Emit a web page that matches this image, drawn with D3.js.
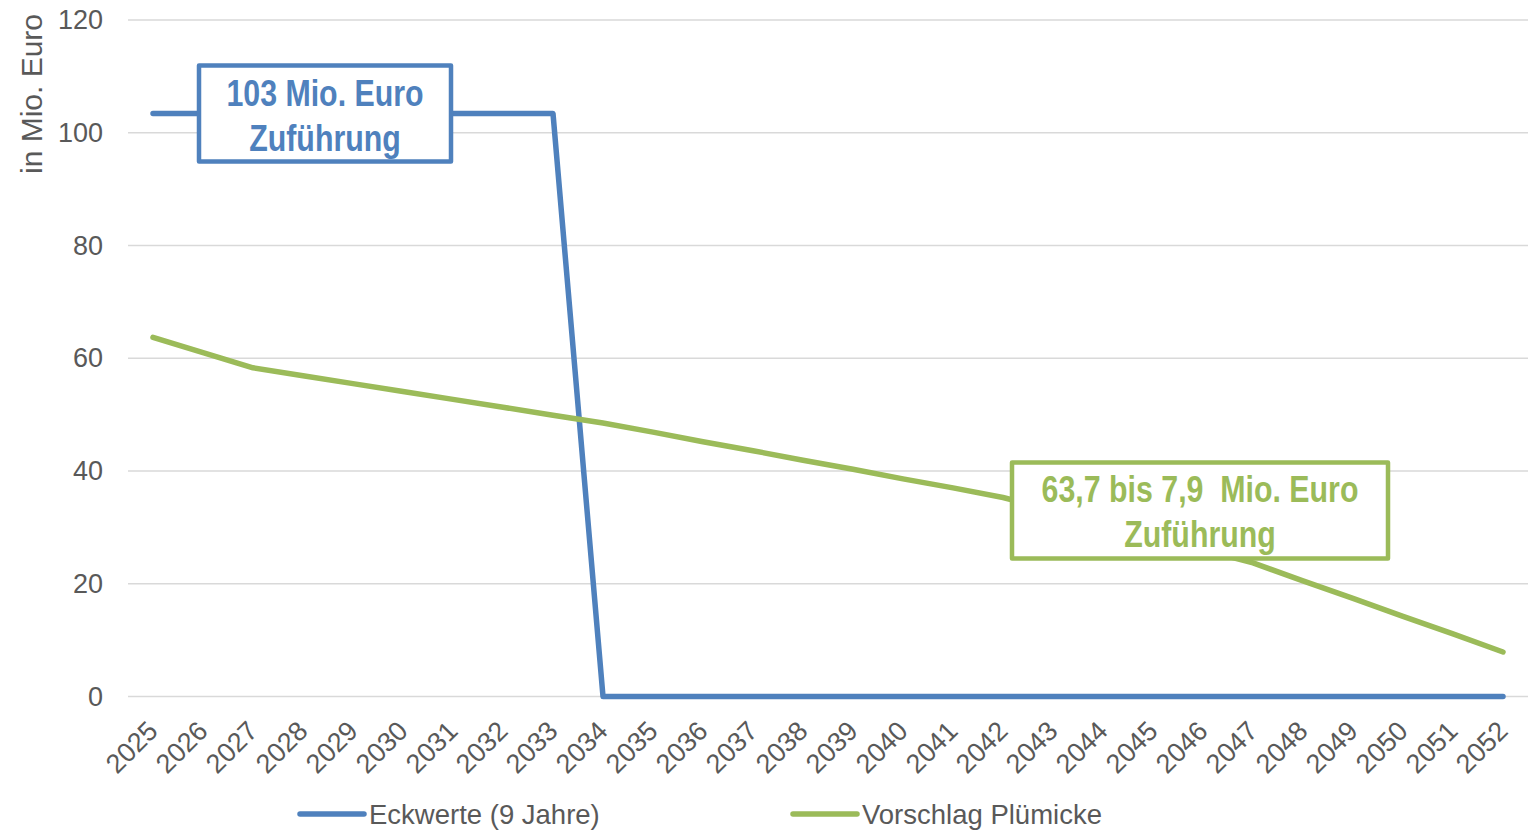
<!DOCTYPE html>
<html lang="de">
<head>
    <meta charset="UTF-8">
</head>
<style>
    body{
        margin:0;
        width:1533px;
        height:831px;
        background:#fff;
        font-family:"Liberation Sans", Arial, sans-serif;
    }
    #chart{
        width:1533px;
        height:831px;
        display:block;
    }
    .grid line{
        stroke:#d9d9d9;
        stroke-width:1.5;
    }
    .tick text{
        fill:#595959;
        font-size:27px;
    }
    .series{
        fill:none;
        stroke-width:5.5;
        stroke-linejoin:round;
        stroke-linecap:round;
    }
    .note text{
        font-family:"Liberation Sans", Arial, sans-serif;
        font-weight:bold;
        font-size:37px;
        white-space:pre;
    }
</style>
<script src="https://d3js.org/d3.v7.min.js"></script>
<body>

<svg id="chart"></svg>

<script>
    var years = d3.range(2025, 2053).map(String);

    var eckwerte = [103.4, 103.4, 103.4, 103.4, 103.4, 103.4, 103.4, 103.4, 103.4,
        0, 0, 0, 0, 0, 0, 0, 0, 0, 0, 0, 0, 0, 0, 0, 0, 0, 0, 0];

    var pluemicke = [63.7, 61.0, 58.3, 56.9, 55.5, 54.1, 52.7, 51.3, 49.9, 48.5,
        46.9, 45.2, 43.6, 41.9, 40.3, 38.6, 37.0, 35.3, 33.0, 30.7, 28.3, 26.0,
        23.7, 20.5, 17.4, 14.2, 11.1, 7.9];

    var yTicks = [0, 20, 40, 60, 80, 100, 120];

    var seriesNames = ["Eckwerte (9 Jahre)", "Vorschlag Plümicke"];
    var seriesColors = ["#4f81bd", "#9bbb59"];

    // annotation boxes: year, offset in steps, value at centre
    var notes = [
        {lines: ["103 Mio. Euro", "Zuführung"], year: "2028", off: 0.44, value: 103.4, w: 252, color: "#4f81bd"},
        {lines: ["63,7 bis 7,9  Mio. Euro", "Zuführung"], year: "2046", off: -0.06, value: 33.0, w: 376, color: "#9bbb59"}
    ];

    var plotLeft = 128, plotRight = 1528, plotTop = 20, plotBottom = 696.5;
    var narrow = 0.82;

    var svg = d3.select("#chart");

    var x = d3.scalePoint().domain(years).range([plotLeft, plotRight]).padding(0.5);
    var y = d3.scaleLinear().domain([0, 120]).range([plotBottom, plotTop]);

    // gridlines
    svg.append("g")
        .attr("class", "grid")
        .selectAll("line")
        .data(yTicks)
        .enter().append("line")
        .attr("x1", plotLeft)
        .attr("x2", plotRight)
        .attr("y1", function(d) { return y(d); })
        .attr("y2", function(d) { return y(d); });

    // y axis labels
    var yAxis = d3.axisLeft(y).tickValues(yTicks).tickSize(0).tickPadding(25);
    svg.append("g")
        .attr("transform", "translate(" + plotLeft + ",0)")
        .call(yAxis)
        .call(function(g) { g.select(".domain").remove(); })
        .selectAll("text")
        .attr("font-family", "Liberation Sans, Arial, sans-serif")
        .style("font-size", "27px");

    svg.append("text")
        .attr("transform", "translate(42,94) rotate(-90)")
        .attr("text-anchor", "middle")
        .attr("fill", "#595959")
        .style("font-size", "30px")
        .text("in Mio. Euro");

    // x axis labels
    var xAxis = d3.axisBottom(x).tickSize(0).tickPadding(0);
    svg.append("g")
        .attr("transform", "translate(0," + plotBottom + ")")
        .call(xAxis)
        .call(function(g) { g.select(".domain").remove(); })
        .selectAll("text")
        .attr("font-family", "Liberation Sans, Arial, sans-serif")
        .attr("y", 0)
        .attr("dy", 0)
        .style("text-anchor", "end")
        .attr("transform", "translate(6,36) rotate(-45)");

    // lines
    var line = d3.line()
        .x(function(d, i) { return x(years[i]); })
        .y(function(d) { return y(d); });

    [eckwerte, pluemicke].forEach(function(s, i) {
        svg.append("path")
            .attr("class", "series")
            .attr("stroke", seriesColors[i])
            .attr("d", line(s));
    });

    // annotation boxes
    notes.forEach(function(n) {
        var cx = x(n.year) + n.off * x.step();
        var cy = y(n.value);
        var g = svg.append("g").attr("class", "note");
        g.append("rect")
            .attr("x", cx - n.w / 2)
            .attr("y", cy - 48)
            .attr("width", n.w)
            .attr("height", 96)
            .attr("fill", "#fff")
            .attr("stroke", n.color)
            .attr("stroke-width", 4.5)
            .attr("stroke-linejoin", "round");
        n.lines.forEach(function(t, k) {
            g.append("text")
                .attr("transform", "translate(" + cx + "," + (cy - 8 + k * 45) + ") scale(" + narrow + ",1)")
                .attr("text-anchor", "middle")
                .attr("fill", n.color)
                .text(t);
        });
    });

    // legend
    var legendX = [300, 793];
    seriesNames.forEach(function(name, i) {
        var lg = svg.append("g").attr("transform", "translate(" + legendX[i] + ",814)");
        lg.append("line")
            .attr("x1", 0).attr("x2", 64)
            .attr("stroke", seriesColors[i])
            .attr("stroke-width", 5.5)
            .attr("stroke-linecap", "round");
        lg.append("text")
            .attr("x", 69)
            .attr("dy", "0.35em")
            .attr("fill", "#595959")
            .style("font-size", "27.5px")
            .text(name);
    });
</script>
</body>
</html>
